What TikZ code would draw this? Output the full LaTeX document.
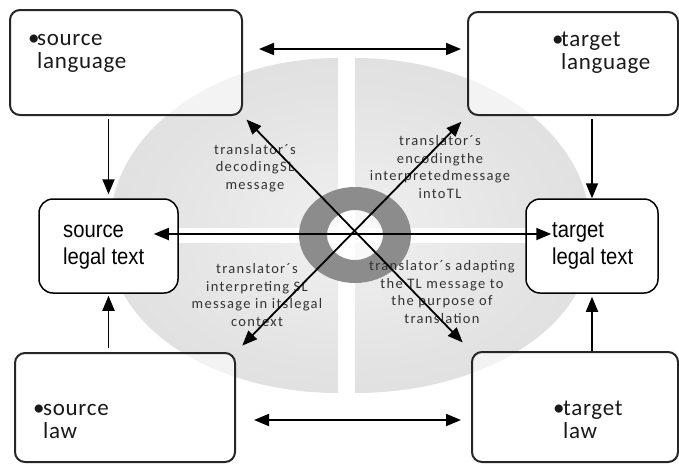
\documentclass[tikz,border=0pt]{standalone}
\usepackage{fontspec}
\setmainfont{Carlito}
\newfontfamily\arialf[FakeStretch=0.88]{Liberation Sans}
\newfontfamily\quadf[LetterSpace=9]{Carlito}
\newfontfamily\boxf[LetterSpace=3]{Carlito}
\usetikzlibrary{arrows.meta,calc}
\pgfdeclareradialshading{quadsh}{\pgfpoint{0bp}{0bp}}{color(0bp)=(gray!12); color(20bp)=(gray!22); color(44bp)=(gray!30); color(50bp)=(gray!10)}
\tikzset{
  quad/.style={shading=quadsh},
  bigbox/.style={draw=black!85, line width=2pt, rounded corners=10pt, fill=white, fill opacity=0.6, inner sep=0pt},
  legalbox/.style={draw=black, line width=1.5pt, rounded corners=14pt, fill=white, inner sep=0pt},
  boxtext/.style={anchor=base west, inner sep=0pt, align=left, font=\boxf\fontsize{23}{23}\selectfont, text=black!90},
  legaltext/.style={anchor=base west, inner sep=0pt, align=left, font=\arialf\fontsize{23}{27}\selectfont},
  quadtext/.style={align=center, inner sep=0pt, font=\quadf\fontsize{14.5}{17.5}\selectfont, text=black!80},
  arr/.style={-{Triangle[length=15pt,width=12pt]}, line width=1.8pt},
  dblarr/.style={{Triangle[length=15pt,width=12pt]}-{Triangle[length=15pt,width=12pt]}, line width=1.8pt},
}
\begin{document}
\begin{tikzpicture}[x=1pt,y=-1pt]
\useasboundingbox (0,0) rectangle (679,463);
% quadrants
\begin{scope}
  \clip (100,58) rectangle (338,227);
  \shade[quad] (338,227) ellipse[x radius=228, y radius=169];
\end{scope}
\begin{scope}
  \clip (355,58) rectangle (600,227);
  \shade[quad] (355,227) ellipse[x radius=235, y radius=169];
\end{scope}
\begin{scope}
  \clip (100,243) rectangle (338,400);
  \shade[quad] (338,243) ellipse[x radius=228, y radius=150];
\end{scope}
\begin{scope}
  \clip (355,243) rectangle (600,400);
  \shade[quad] (355,243) ellipse[x radius=235, y radius=150];
\end{scope}
% ring
\fill[white, opacity=0.6] (355,235) ellipse[x radius=28, y radius=25];
\fill[black!45, even odd rule] (355,235) ellipse[x radius=56, y radius=48] (355,235) ellipse[x radius=28, y radius=25];
% quadrant texts
\node[quadtext] (q1) at (255,168) {translator´s\\decodingSL\\message};
\node[quadtext] (q2) at (440,167) {translator´s\\encodingthe\\interpretedmessage\\intoTL};
\node[quadtext] (q3) at (257,295) {translator´s\\interpreting SL\\message in itslegal\\context};
\node[quadtext] (q4) at (442,292) {translator´s adapting\\the TL message to\\the purpose of\\translation};
% boxes
\node[bigbox, minimum width=232pt, minimum height=105pt] (sl) at (126,62.5) {};
\node[bigbox, minimum width=210pt, minimum height=103pt] (tl) at (573,63.5) {};
\node[bigbox, minimum width=220pt, minimum height=109pt] (slaw) at (125,407.5) {};
\node[bigbox, minimum width=206pt, minimum height=110pt] (tlaw) at (575,407) {};
\node[legalbox, minimum width=139pt, minimum height=94pt] (slt) at (108.5,246) {};
\node[legalbox, minimum width=132pt, minimum height=94pt] (tlt) at (592,246) {};
% box texts (base = baseline of last line)
\node[boxtext] (slT) at (28,68) {\makebox[9pt][l]{•}source\\\hspace*{9pt}language};
\node[boxtext] (tlT) at (552,69) {\makebox[9pt][l]{•}target\\\hspace*{9pt}language};
\node[boxtext] (slawT) at (33,438) {\makebox[10pt][l]{•}source\\\hspace*{10pt}law};
\node[boxtext] (tlawT) at (553,438) {\makebox[10pt][l]{•}target\\\hspace*{10pt}law};
\node[legaltext] (sltT) at (63,264) {source\\legal text};
\node[legaltext] (tltT) at (552,264) {target\\legal text};
% arrows
\draw[arr, shorten <=3pt, shorten >=4pt] (slt.north |- sl.south) -- (slt.north);
\draw[arr, shorten <=3pt, shorten >=0pt] (tlt.north |- tl.south) -- (tlt.north);
\draw[arr, shorten <=4pt, shorten >=2pt] (slt.south |- slaw.north) -- (slt.south);
\draw[arr, shorten >=3pt] (tlt.south |- tlaw.north) -- (tlt.south);
\draw[dblarr] ($(sl.east |- 0,49)+(16,0)$) -- ($(tl.west |- 0,49)+(-6,0)$);
\draw[dblarr] ($(slaw.east |- 0,420)+(18,0)$) -- ($(tlaw.west |- 0,420)+(-10,0)$);
\draw[dblarr] ($(slt.east |- 0,234)+(-25,0)$) -- ($(tlt.west |- 0,234)+(26,0)$);
\draw[dblarr, shorten <=5pt, shorten >=12pt] (sl.south east) -- (tlaw.north west);
\draw[dblarr, shorten <=8pt, shorten >=9pt] (tl.south west) -- (slaw.north east);
\end{tikzpicture}
\end{document}
